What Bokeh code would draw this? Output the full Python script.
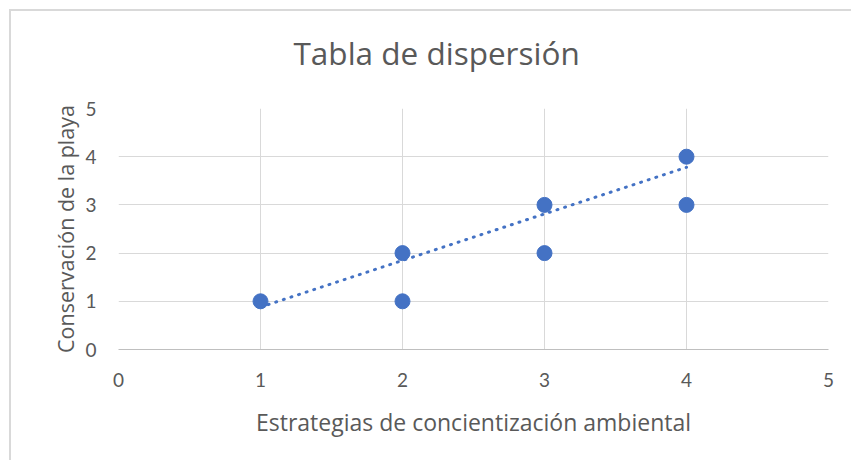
from bokeh.plotting import figure
from bokeh.models import FixedTicker, Range1d, Title
from bokeh.embed import file_html
from bokeh.resources import INLINE

# data
x_vals = [1, 2, 2, 3, 3, 4, 4]
y_vals = [1, 2, 1, 3, 2, 4, 3]
trend_x = [1, 4]
trend_y = [0.88, 3.78]
ticks = [0, 1, 2, 3, 4, 5]
title_text = "Tabla de dispersión"
x_title = "Estrategias de concientización ambiental"
y_title = "Conservación de la playa"

TFONT = "Open Sans"
FONT = "Lato"
TXT = "#595959"
BLUE = "#4472C4"

p = figure(width=842, height=451, output_backend="svg", toolbar_location=None,
           x_range=Range1d(0, 5), y_range=Range1d(0, 5),
           min_border_left=107, min_border_right=25, min_border_top=97,
           min_border_bottom=113, title=title_text)
p.styles = {"border-left": "2px solid #d9d9d9", "border-top": "2px solid #d9d9d9",
            "margin-left": "9px", "margin-top": "9px"}
p.outline_line_color = None
p.background_fill_color = "white"
p.border_fill_color = "white"

p.title.align = "left"
p.title.offset = 175
p.title.standoff = 34
p.title.text_font = TFONT
p.title.text_font_size = "31.5px"
p.title.text_font_style = "normal"
p.title.text_color = TXT
# spacer between title and plot area
p.add_layout(Title(text=" ", text_font_size="1px", standoff=15), "above")

for ax in (p.xaxis[0], p.yaxis[0]):
    ax.ticker = FixedTicker(ticks=ticks)
    ax.major_tick_line_color = None
    ax.minor_tick_line_color = None
    ax.major_label_text_font = FONT
    ax.major_label_text_font_size = "19px"
    ax.major_label_text_color = TXT
    ax.axis_label_text_font = TFONT
    ax.axis_label_text_font_style = "normal"
    ax.axis_label_text_color = TXT

p.xaxis.axis_label = x_title
p.xaxis.axis_label_text_font_size = "23px"
p.yaxis.axis_label = y_title
p.yaxis.axis_label_text_font_size = "21.5px"
p.xaxis.axis_line_color = "#bfbfbf"
p.yaxis.axis_line_color = None
p.xaxis.major_label_standoff = 17
p.yaxis.major_label_standoff = 16
p.xaxis.axis_label_standoff = 16
p.yaxis.axis_label_standoff = 2

p.xgrid.ticker = FixedTicker(ticks=ticks)
p.ygrid.ticker = FixedTicker(ticks=ticks)
p.grid.grid_line_color = "#d9d9d9"
p.grid.grid_line_width = 1

p.line(trend_x, trend_y, line_color=BLUE, line_width=3, line_dash="1 7", line_cap="round")
p.scatter(x_vals, y_vals, size=15, fill_color=BLUE, line_color=BLUE)

open("out.html", "w").write(file_html(p, INLINE))
